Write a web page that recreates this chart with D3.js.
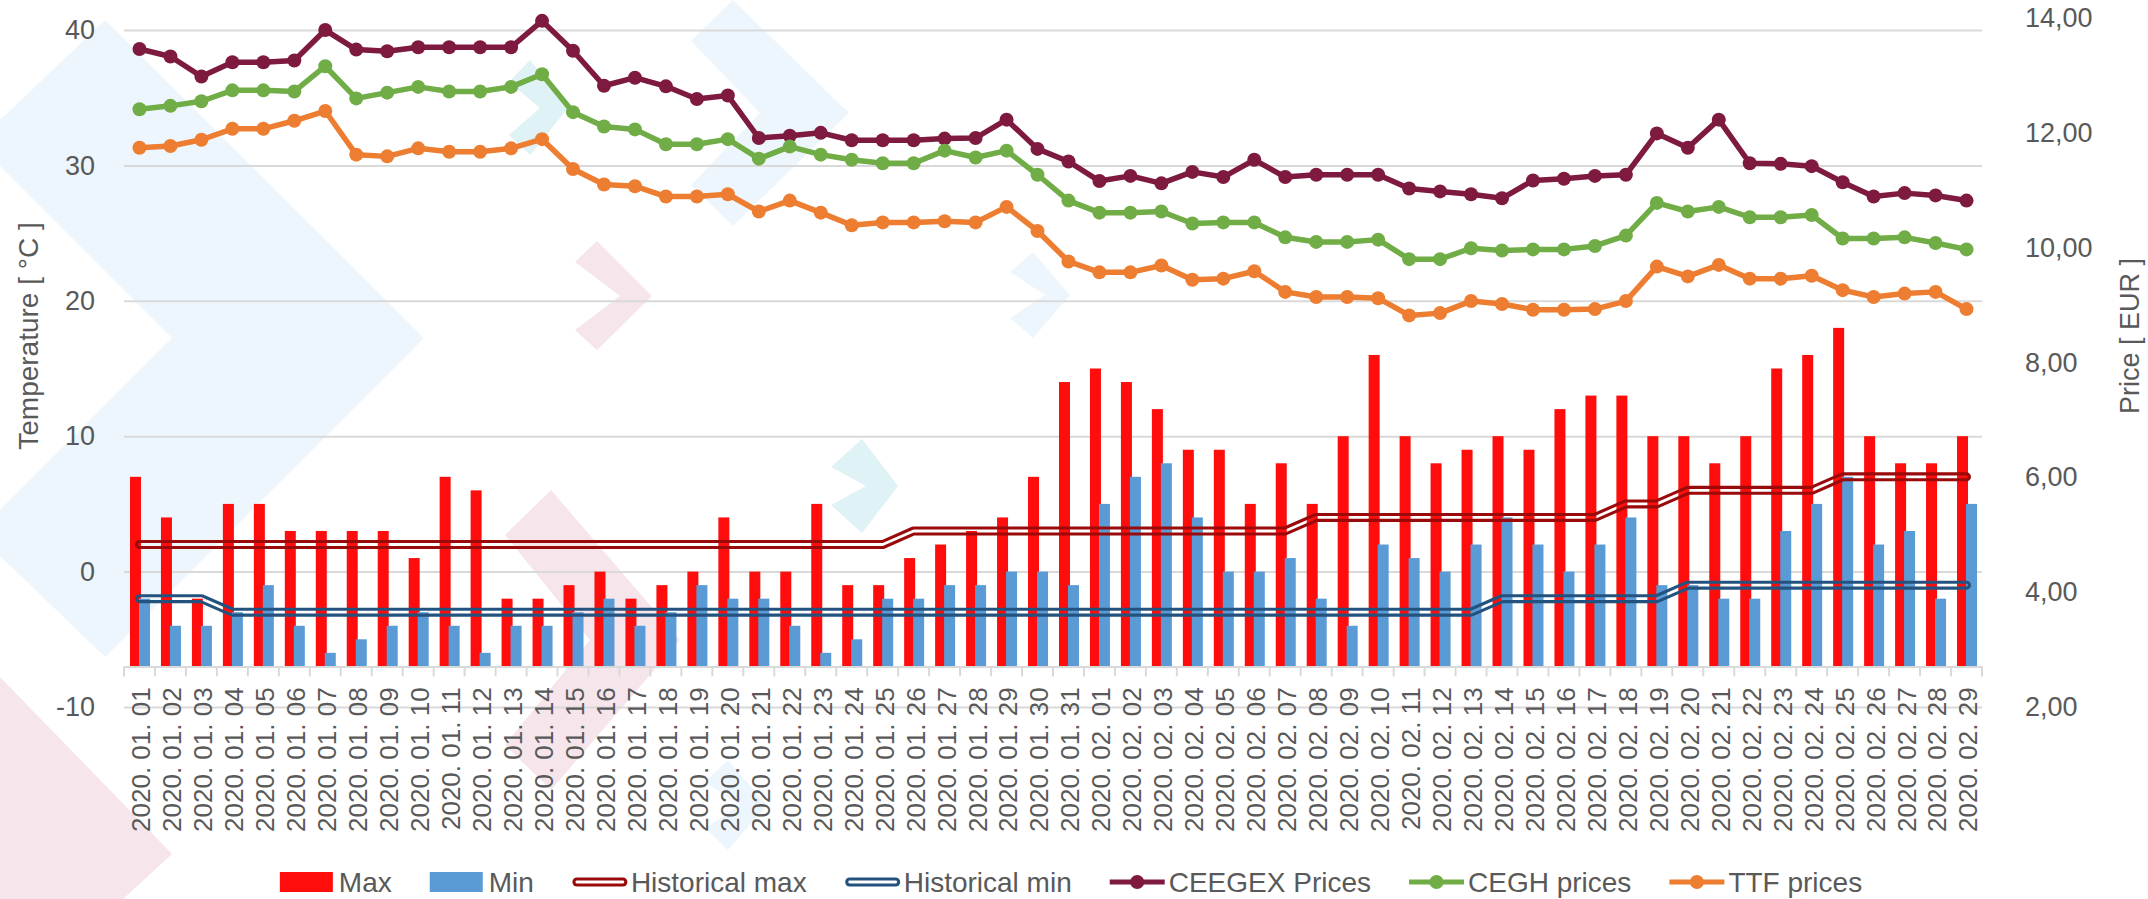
<!DOCTYPE html>
<html>
<head>
<meta charset="utf-8">
<script src="https://cdn.jsdelivr.net/npm/d3@7"></script>
<style>
  body { margin: 0; background: #ffffff; }
  svg { display: block; font-family: "Liberation Sans", Arial, sans-serif; }
</style>
</head>
<body>
<div id="chart"></div>
<script>
// categories
var days = [
  "2020. 01. 01","2020. 01. 02","2020. 01. 03","2020. 01. 04","2020. 01. 05","2020. 01. 06","2020. 01. 07","2020. 01. 08",
  "2020. 01. 09","2020. 01. 10","2020. 01. 11","2020. 01. 12","2020. 01. 13","2020. 01. 14","2020. 01. 15","2020. 01. 16",
  "2020. 01. 17","2020. 01. 18","2020. 01. 19","2020. 01. 20","2020. 01. 21","2020. 01. 22","2020. 01. 23","2020. 01. 24",
  "2020. 01. 25","2020. 01. 26","2020. 01. 27","2020. 01. 28","2020. 01. 29","2020. 01. 30","2020. 01. 31",
  "2020. 02. 01","2020. 02. 02","2020. 02. 03","2020. 02. 04","2020. 02. 05","2020. 02. 06","2020. 02. 07","2020. 02. 08",
  "2020. 02. 09","2020. 02. 10","2020. 02. 11","2020. 02. 12","2020. 02. 13","2020. 02. 14","2020. 02. 15","2020. 02. 16",
  "2020. 02. 17","2020. 02. 18","2020. 02. 19","2020. 02. 20","2020. 02. 21","2020. 02. 22","2020. 02. 23","2020. 02. 24",
  "2020. 02. 25","2020. 02. 26","2020. 02. 27","2020. 02. 28","2020. 02. 29"
];

// temperatures (left axis)
var tempMax = [7,4,-2,5,5,3,3,3,3,1,7,6,-2,-2,-1,0,-2,-1,0,4,0,0,5,-1,-1,1,2,3,4,7,14,
  15,14,12,9,9,5,8,5,10,16,10,8,9,10,9,12,13,13,10,10,8,10,15,16,18,10,8,8,10];
var tempMin = [-2,-4,-4,-3,-1,-4,-6,-5,-4,-3,-4,-6,-4,-4,-3,-2,-4,-3,-1,-2,-2,-4,-6,-5,-2,-2,-1,-1,0,0,-1,
  5,7,8,4,0,0,1,-2,-4,2,1,0,2,4,2,0,2,4,-1,-1,-2,-2,3,5,7,2,3,-2,5];
var histMax = [2,2,2,2,2,2,2,2,2,2,2,2,2,2,2,2,2,2,2,2,2,2,2,2,2,3,3,3,3,3,3,
  3,3,3,3,3,3,3,4,4,4,4,4,4,4,4,4,4,5,5,6,6,6,6,6,7,7,7,7,7];
var histMin = [-2,-2,-2,-3,-3,-3,-3,-3,-3,-3,-3,-3,-3,-3,-3,-3,-3,-3,-3,-3,-3,-3,-3,-3,-3,-3,-3,-3,-3,-3,-3,
  -3,-3,-3,-3,-3,-3,-3,-3,-3,-3,-3,-3,-3,-2,-2,-2,-2,-2,-2,-1,-1,-1,-1,-1,-1,-1,-1,-1,-1];

// prices (right axis)
var ceegex = [13.46,13.33,12.98,13.23,13.23,13.26,13.79,13.45,13.42,13.49,13.49,13.49,13.49,13.95,13.43,12.82,
  12.96,12.81,12.59,12.65,11.91,11.95,12.00,11.87,11.87,11.87,11.90,11.91,12.23,11.72,11.50,
  11.16,11.25,11.12,11.32,11.23,11.53,11.23,11.27,11.27,11.27,11.03,10.98,10.93,10.86,11.17,
  11.20,11.25,11.27,11.99,11.74,12.23,11.47,11.46,11.42,11.14,10.89,10.95,10.91,10.82];
var cegh = [12.41,12.47,12.55,12.74,12.74,12.72,13.16,12.60,12.70,12.80,12.72,12.72,12.80,13.02,12.36,12.11,
  12.06,11.80,11.80,11.89,11.55,11.76,11.62,11.53,11.47,11.47,11.69,11.57,11.69,11.27,10.82,
  10.61,10.61,10.63,10.42,10.44,10.44,10.18,10.10,10.10,10.14,9.80,9.80,9.99,9.95,9.97,
  9.97,10.03,10.21,10.78,10.63,10.71,10.53,10.53,10.57,10.16,10.16,10.18,10.08,9.97];
var ttf = [11.74,11.77,11.88,12.07,12.07,12.21,12.38,11.62,11.59,11.73,11.67,11.67,11.73,11.89,11.37,11.10,
  11.07,10.89,10.89,10.93,10.63,10.82,10.61,10.39,10.44,10.44,10.46,10.44,10.71,10.29,9.76,
  9.57,9.57,9.69,9.44,9.46,9.59,9.23,9.14,9.14,9.12,8.82,8.86,9.07,9.02,8.92,
  8.92,8.93,9.07,9.67,9.50,9.70,9.46,9.46,9.51,9.26,9.14,9.20,9.23,8.93];

var tempTicks = [-10, 0, 10, 20, 30, 40];
var priceTicks = [2, 4, 6, 8, 10, 12, 14];
var axisCross = -7;   // category axis crosses the temperature axis here

var W = 2148, H = 899;
var plot = { left: 124, right: 1982, top: 18, bottom: 707 };
var textColor = "#595959", gridColor = "#d9d9d9";

// background chevrons (decoration only)
var decor = [
  { fill: "#eef6fd", pts: [[105,20],[424,338],[105,657],[0,556],[0,510],[172,338],[0,166],[0,120]] },
  { fill: "#f6e5eb", pts: [[0,677],[172,854],[123,899],[0,899]] },
  { fill: "#f6e5eb", pts: [[551,490],[680,640],[551,790],[505,745],[590,640],[505,535]] },
  { fill: "#f6e5eb", pts: [[597,241],[652,296],[597,350],[575,330],[620,296],[575,262]] },
  { fill: "#dff2f5", pts: [[530,60],[568,108],[530,155],[509,135],[540,108],[509,82]] },
  { fill: "#eef6fd", pts: [[733,0],[849,113],[733,226],[691,185],[760,113],[691,41]] },
  { fill: "#dff2f5", pts: [[862,439],[898,486],[862,533],[831,505],[866,486],[831,467]] },
  { fill: "#eef6fd", pts: [[1033,252],[1070,295],[1033,338],[1010,318],[1045,295],[1010,272]] },
  { fill: "#eef6fd", pts: [[728,760],[767,805],[728,850],[705,828],[740,805],[705,782]] }
];

var svg = d3.select("#chart").append("svg")
  .attr("width", W)
  .attr("height", H);

svg.append("g").selectAll("polygon")
  .data(decor)
  .enter().append("polygon")
  .attr("points", function(d) { return d.pts.map(function(p) { return p.join(","); }).join(" "); })
  .attr("fill", function(d) { return d.fill; });

var x = d3.scaleBand().domain(days).range([plot.left, plot.right]).padding(0);
var y = d3.scaleLinear().domain([-10, 40]).range([plot.bottom, 30]);
var yP = d3.scaleLinear().domain([2, 14]).range([plot.bottom, plot.top]);
var cx = function(i) { return x(days[i]) + x.bandwidth() / 2; };

// gridlines
svg.append("g")
  .attr("transform", "translate(" + plot.left + ",0)")
  .call(d3.axisLeft(y).tickValues(tempTicks).tickSize(-(plot.right - plot.left)).tickFormat(""))
  .call(function(g) { g.select(".domain").remove(); })
  .selectAll("line").attr("stroke", gridColor).attr("stroke-width", 2);

// left axis labels (plain hyphen for negatives, like the original)
svg.append("g")
  .attr("transform", "translate(" + plot.left + ",0)")
  .call(d3.axisLeft(y).tickValues(tempTicks).tickSize(0).tickPadding(29).tickFormat(function(d) { return String(d); }))
  .call(function(g) { g.select(".domain").remove(); })
  .selectAll("text").attr("fill", textColor).style("font-size", "27px");

// right axis labels
var priceFmt = function(d) { return d.toFixed(2).replace(".", ","); };
svg.append("g")
  .attr("transform", "translate(" + plot.right + ",0)")
  .call(d3.axisRight(yP).tickValues(priceTicks).tickSize(0).tickPadding(43).tickFormat(priceFmt))
  .call(function(g) { g.select(".domain").remove(); })
  .selectAll("text").attr("fill", textColor).style("font-size", "27px");

// bars
var barW = 11;
var base = y(axisCross);
svg.append("g").selectAll("rect")
  .data(tempMax)
  .enter().append("rect")
  .attr("x", function(d, i) { return cx(i) - 9.5; })
  .attr("width", barW)
  .attr("y", function(d) { return y(d); })
  .attr("height", function(d) { return base - y(d); })
  .attr("fill", "#ff0d0d");

svg.append("g").selectAll("rect")
  .data(tempMin)
  .enter().append("rect")
  .attr("x", function(d, i) { return cx(i) - 0.5; })
  .attr("width", barW)
  .attr("y", function(d) { return y(d); })
  .attr("height", function(d) { return base - y(d); })
  .attr("fill", "#5b9bd5");

// category axis
var xAxis = svg.append("g")
  .attr("transform", "translate(0," + base + ")")
  .call(d3.axisBottom(x).tickSize(0).tickSizeOuter(0));
xAxis.select(".domain").attr("stroke", gridColor).attr("stroke-width", 2);
xAxis.selectAll("text")
  .attr("transform", "rotate(-90)")
  .attr("text-anchor", "end")
  .attr("x", -21)
  .attr("y", 0)
  .attr("dy", "0.42em")
  .attr("fill", textColor)
  .style("font-size", "26px");

svg.append("g").selectAll("line")
  .data(d3.range(days.length + 1))
  .enter().append("line")
  .attr("x1", function(i) { return plot.left + i * x.step(); })
  .attr("x2", function(i) { return plot.left + i * x.step(); })
  .attr("y1", base)
  .attr("y2", base + 10)
  .attr("stroke", gridColor)
  .attr("stroke-width", 2);

// double ("compound") line: thick stroke with its centre cut out by a mask
var defs = svg.append("defs");
function doubleLine(g, d, color, id) {
  var m = defs.append("mask").attr("id", id)
    .attr("maskUnits", "userSpaceOnUse")
    .attr("x", 0).attr("y", 0).attr("width", W).attr("height", H);
  m.append("rect").attr("width", W).attr("height", H).attr("fill", "white");
  m.append("path").attr("d", d).attr("fill", "none").attr("stroke", "black")
    .attr("stroke-width", 2.8).attr("stroke-linecap", "round").attr("stroke-linejoin", "round");
  g.append("path").attr("d", d).attr("fill", "none").attr("stroke", color)
    .attr("stroke-width", 9).attr("stroke-linecap", "round").attr("stroke-linejoin", "round")
    .attr("mask", "url(#" + id + ")");
}

var tempLine = d3.line().x(function(d, i) { return cx(i); }).y(function(d) { return y(d); });
var lines = svg.append("g");
doubleLine(lines, tempLine(histMax), "#9a0a0a", "m-hmax");
doubleLine(lines, tempLine(histMin), "#24527e", "m-hmin");

// price lines with markers
var priceSeries = [
  { name: "CEEGEX Prices", values: ceegex, color: "#7e1a3f" },
  { name: "CEGH prices", values: cegh, color: "#70ad47" },
  { name: "TTF prices", values: ttf, color: "#ed7d31" }
];
var priceLine = d3.line().x(function(d, i) { return cx(i); }).y(function(d) { return yP(d); });
priceSeries.forEach(function(s) {
  var g = svg.append("g");
  g.append("path")
    .attr("d", priceLine(s.values))
    .attr("fill", "none")
    .attr("stroke", s.color)
    .attr("stroke-width", 5.5)
    .attr("stroke-linejoin", "round");
  g.selectAll("circle")
    .data(s.values)
    .enter().append("circle")
    .attr("cx", function(d, i) { return cx(i); })
    .attr("cy", function(d) { return yP(d); })
    .attr("r", 7)
    .attr("fill", s.color);
});

// axis titles
svg.append("text")
  .attr("transform", "translate(28,336) rotate(-90)")
  .attr("text-anchor", "middle")
  .attr("dy", "0.35em")
  .attr("fill", textColor)
  .style("font-size", "28px")
  .text("Temperature [ °C ]");

svg.append("text")
  .attr("transform", "translate(2130,336) rotate(-90)")
  .attr("text-anchor", "middle")
  .attr("dy", "0.35em")
  .attr("fill", textColor)
  .style("font-size", "27px")
  .text("Price [ EUR ]");

// legend
var legendItems = [
  { name: "Max", type: "bar", color: "#ff0d0d" },
  { name: "Min", type: "bar", color: "#5b9bd5" },
  { name: "Historical max", type: "double", color: "#9a0a0a" },
  { name: "Historical min", type: "double", color: "#24527e" },
  { name: "CEEGEX Prices", type: "marker", color: "#7e1a3f" },
  { name: "CEGH prices", type: "marker", color: "#70ad47" },
  { name: "TTF prices", type: "marker", color: "#ed7d31" }
];
var legend = svg.append("g");
var ly = 882, symW = 55, cursor = 0;
legendItems.forEach(function(it, k) {
  var g = legend.append("g").attr("transform", "translate(" + cursor + ",0)");
  if (it.type === "bar") {
    g.append("rect").attr("x", 0).attr("y", ly - 10).attr("width", 53).attr("height", 20).attr("fill", it.color);
  } else if (it.type === "double") {
    doubleLine(g, "M5," + ly + "H" + (symW - 4), it.color, "m-leg" + k);
  } else {
    g.append("line").attr("x1", 0).attr("x2", symW).attr("y1", ly).attr("y2", ly)
      .attr("stroke", it.color).attr("stroke-width", 5);
    g.append("circle").attr("cx", symW / 2).attr("cy", ly).attr("r", 7).attr("fill", it.color);
  }
  var t = g.append("text")
    .attr("x", symW + 4)
    .attr("y", ly)
    .attr("dy", "0.35em")
    .attr("fill", textColor)
    .style("font-size", "28px")
    .text(it.name);
  cursor += symW + 4 + t.node().getComputedTextLength() + 38;
});
var legendW = cursor - 38;
legend.attr("transform", "translate(" + (1071 - legendW / 2) + ",0)");
</script>
</body>
</html>
